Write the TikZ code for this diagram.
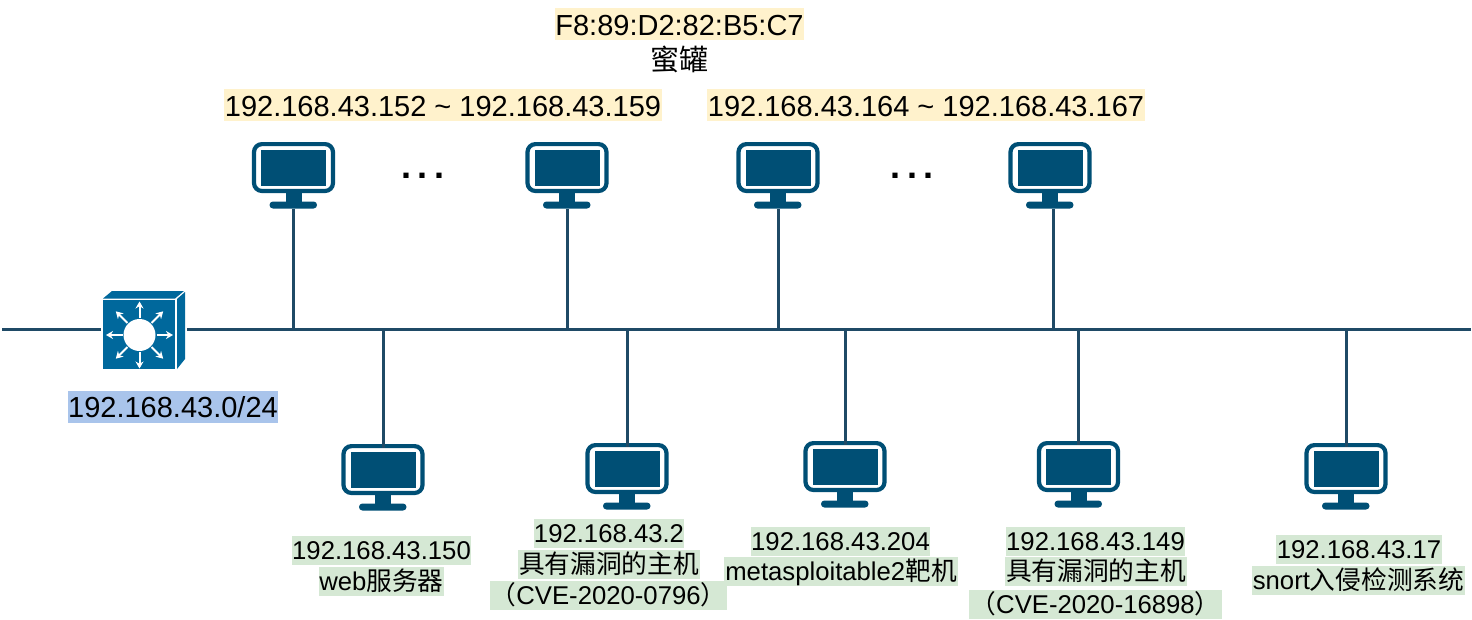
\documentclass[tikz,border=0pt]{standalone}
\usepackage{fontspec}
\setmainfont{Liberation Sans}
\newfontfamily\cjk{Noto Sans CJK SC}
\definecolor{mon}{HTML}{004F75}
\definecolor{swc}{HTML}{00689C}
\definecolor{wire}{HTML}{1F4A66}
\definecolor{cream}{HTML}{FFF2CC}
\definecolor{bluehl}{HTML}{A9C4EB}
\definecolor{greenhl}{HTML}{D5E8D4}
\usetikzlibrary{arrows.meta}
\tikzset{
  big/.style={font=\fontsize{29}{29}\selectfont,inner sep=0pt,text height=27pt,text depth=5pt},
  small/.style={font=\fontsize{25.7}{26}\selectfont,inner sep=0pt,text height=23.5pt,text depth=5.5pt,fill=greenhl},
  dotsnode/.style={font=\fontsize{36}{36}\selectfont\bfseries,inner sep=0pt,anchor=base},
  monbox/.style={inner sep=0pt,minimum width=84pt,minimum height=66.5pt,anchor=north},
  wireline/.style={draw=wire,line width=3pt},
  sarrow/.style={white,line width=2pt,-{Stealth[length=7pt,width=8pt]}}
}
\newcommand{\monitor}[3]{%
  \node[monbox] (#1) at (#2,#3) {};
  \begin{scope}[shift={(#2,#3)}]
    \draw[mon,line width=4.2pt,rounded corners=8pt] (-39.5,2.1) rectangle (39.5,49);
    \fill[mon] (-32.5,7.5) rectangle (32.5,43.5);
    \fill[mon] (-8,50) rectangle (8,60);
    \fill[mon,rounded corners=3.4pt] (-24,59.5) rectangle (23.5,66.5);
  \end{scope}}
\newcommand{\tdots}{.\hspace{7pt}.\hspace{7pt}.}
\begin{document}
\begin{tikzpicture}[x=1pt,y=-1pt]
\useasboundingbox (0,0) rectangle (1472,619);
\fill[white] (0,0) rectangle (1472,619);
% switch
\node[inner sep=0pt,minimum width=86pt,minimum height=78pt] (sw) at (144,330) {};
\fill[swc] (103,298.5) -- (112,291) -- (184,291) -- (175,298.5) -- cycle;
\fill[swc] (177,299) -- (185,292) -- (185,359) -- (177,369) -- cycle;
\fill[swc] (103,300) rectangle (175,369);
\fill[white] (139.5,335) circle (16);
\foreach \a in {0,45,...,315}{
  \draw[sarrow] (139.5,335) ++(\a:17) -- ++(\a:16.5);
}
% monitors
\monitor{t1}{293.5}{142}
\monitor{t2}{567}{142}
\monitor{t3}{778}{142}
\monitor{t4}{1050}{142}
\monitor{b1}{383}{444}
\monitor{b2}{627}{443}
\monitor{b3}{845}{441}
\monitor{b4}{1078.5}{441}
\monitor{b5}{1346}{443}
% bus
\coordinate (busL) at (2,329);
\coordinate (busR) at (1471,329);
\coordinate (j1) at (293.5,329);
\coordinate (j2) at (567,329);
\coordinate (j3) at (778,329);
\coordinate (j4) at (1053,329);
\coordinate (k1) at (383,329);
\coordinate (k2) at (627,329);
\coordinate (k3) at (845,329);
\coordinate (k4) at (1078.5,329);
\coordinate (k5) at (1346,329);
\draw[wireline] (busL) -- (sw.west |- busL);
\draw[wireline] (sw.east |- busR) -- (busR);
\draw[wireline] (t1.south) -- (j1);
\draw[wireline] (t2.south) -- (j2);
\draw[wireline] (t3.south) -- (j3);
\draw[wireline] (j4 |- t4.south) -- (j4);
\draw[wireline] (k1) -- ([yshift=-4pt]b1.north);
\draw[wireline] (k2) -- ([yshift=-4pt]b2.north);
\draw[wireline] (k3) -- ([yshift=-4pt]b3.north);
\draw[wireline] (k4) -- ([yshift=-4pt]b4.north);
\draw[wireline] (k5) -- ([yshift=-4pt]b5.north);
% top labels
\node[big,fill=cream,minimum width=249pt] (mac) at (679.5,24) {F8:89:D2:82:B5:C7};
\node[big] (hp) at (679,59) {\cjk 蜜罐};
\node[big,fill=cream,minimum width=438pt] (r1) at (443,105) {192.168.43.152 \char`~{} 192.168.43.159};
\node[big,fill=cream,minimum width=438pt] (r2) at (926,105) {192.168.43.164 \char`~{} 192.168.43.167};
\node[dotsnode] (d1) at (423,178) {\tdots};
\node[dotsnode] (d2) at (912,178) {\tdots};
\node[big,fill=bluehl,minimum width=210pt] (net) at (173,406.5) {192.168.43.0/24};
% lower labels
\node[small,minimum width=179pt] (a1) at (381.5,550.5) {192.168.43.150};
\node[small,minimum width=125pt] (a2) at (381.5,581.5) {web{\cjk 服务器}};
\node[small,minimum width=150pt] (c1) at (609,533.5) {192.168.43.2};
\node[small,minimum width=182pt] (c2) at (609,564.5) {\cjk 具有漏洞的主机};
\node[small,minimum width=237pt] (c3) at (608.5,595.5) {{\cjk （}CVE-2020-0796{\cjk ）}};
\node[small,minimum width=179pt] (e1) at (840.5,541) {192.168.43.204};
\node[small,minimum width=234pt] (e2) at (841,571) {metasploitable2{\cjk 靶机}};
\node[small,minimum width=179pt] (f1) at (1095.5,541) {192.168.43.149};
\node[small,minimum width=182pt] (f2) at (1096,571.5) {\cjk 具有漏洞的主机};
\node[small,minimum width=253pt] (f3) at (1095.5,604.5) {{\cjk （}CVE-2020-16898{\cjk ）}};
\node[small,minimum width=166pt] (g1) at (1359,549.5) {192.168.43.17};
\node[small,minimum width=213pt] (g2) at (1358.5,580.5) {snort{\cjk 入侵检测系统}};
\end{tikzpicture}
\end{document}
